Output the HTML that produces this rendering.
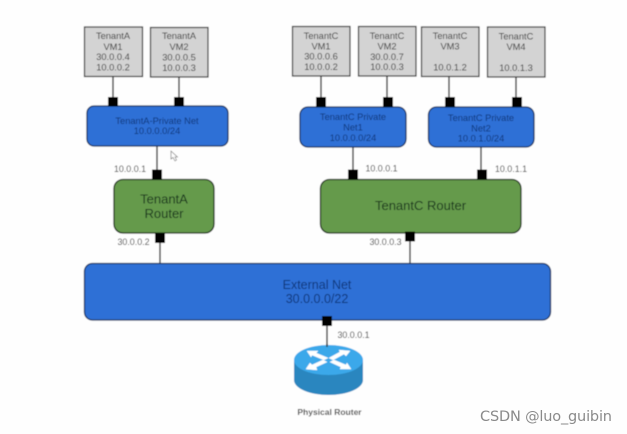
<!DOCTYPE html>
<html>
<head>
<meta charset="utf-8">
<style>
html,body{margin:0;padding:0;background:#fefefe;}
svg{display:block;}
text{font-family:"Liberation Sans",sans-serif;text-anchor:middle;}
.vm{font-size:9.3px;fill:#333;}
.net{font-size:9.3px;fill:#0f3678;}
.ip{font-size:8.9px;fill:#3c3c3c;}
.r{font-size:13px;fill:#12301a;}
</style>
</head>
<body>
<svg width="627" height="434" viewBox="0 0 627 434" xmlns="http://www.w3.org/2000/svg">
<defs><filter id="b" x="0" y="0" width="100%" height="100%"><feGaussianBlur stdDeviation="0.5"/></filter></defs>
<g filter="url(#b)">
<rect width="627" height="434" fill="#fefefe"/>

<!-- lines -->
<g stroke="#333" stroke-width="1.4" fill="none">
<path d="M113 76V100M179 76V100M321 76V100M387 76V100M449 76V100M516 76V100"/>
<path d="M157 146V172M353 146V172M481 146V172M160 240V264M410 238V264M327 322V350"/>
</g>

<!-- VMs -->
<g fill="#d3d3d3" stroke="#2a2a2a" stroke-width="1.2">
<rect x="84.500" y="27" width="58" height="49.500"/>
<rect x="150.500" y="27.500" width="57.500" height="49.500"/>
<rect x="292.500" y="26.500" width="57.500" height="49.500"/>
<rect x="358.500" y="26.500" width="57.500" height="49.500"/>
<rect x="421.500" y="27" width="57.500" height="49.500"/>
<rect x="487.500" y="27" width="57.500" height="50"/>
</g>
<text class="vm" x="113" y="39">TenantA</text><text class="vm" x="113" y="50">VM1</text><text class="vm" x="113" y="60">30.0.0.4</text><text class="vm" x="113" y="70.500">10.0.0.2</text>
<text class="vm" x="179" y="39">TenantA</text><text class="vm" x="179" y="50">VM2</text><text class="vm" x="179" y="60.500">30.0.0.5</text><text class="vm" x="179" y="71">10.0.0.3</text>
<text class="vm" x="321" y="39">TenantC</text><text class="vm" x="321" y="49.500">VM1</text><text class="vm" x="321" y="59.500">30.0.0.6</text><text class="vm" x="321" y="70">10.0.0.2</text>
<text class="vm" x="387" y="39">TenantC</text><text class="vm" x="387" y="49.500">VM2</text><text class="vm" x="387" y="60">30.0.0.7</text><text class="vm" x="387" y="70">10.0.0.3</text>
<text class="vm" x="450" y="39">TenantC</text><text class="vm" x="450" y="49.500">VM3</text><text class="vm" x="450" y="70.500">10.0.1.2</text>
<text class="vm" x="516" y="39.500">TenantC</text><text class="vm" x="516" y="50">VM4</text><text class="vm" x="516" y="71">10.0.1.3</text>

<!-- private nets -->
<g fill="#2f6fd6" stroke="#12305f" stroke-width="1.300">
<rect x="87" y="106" width="141" height="40" rx="7"/>
<rect x="300" y="107" width="106" height="40" rx="8"/>
<rect x="428.500" y="107" width="105.500" height="40" rx="8"/>
</g>
<text class="net" x="157" y="124">TenantA-Private Net</text>
<text class="net" x="157" y="134">10.0.0.0/24</text>
<text class="net" x="353" y="120">TenantC Private</text>
<text class="net" x="353" y="130.500">Net1</text>
<text class="net" x="353" y="141">10.0.0.0/24</text>
<text class="net" x="481" y="121">TenantC Private</text>
<text class="net" x="481" y="131.500">Net2</text>
<text class="net" x="481" y="141.500">10.0.1.0/24</text>

<!-- routers -->
<g fill="#659a4c" stroke="#1d2f1a" stroke-width="1.300">
<rect x="114" y="179.500" width="100" height="53.500" rx="9"/>
<rect x="320.500" y="179.500" width="200.500" height="53.500" rx="9"/>
</g>
<text class="r" x="164" y="203.500">TenantA</text>
<text class="r" x="164" y="218">Router</text>
<text class="r" x="420.500" y="210">TenantC Router</text>

<!-- external -->
<rect x="84.500" y="263.500" width="466" height="56.500" rx="8" fill="#2f6fd6" stroke="#12305f" stroke-width="1.300"/>
<text x="317" y="289" font-size="12.500" fill="#0f3678">External Net</text>
<text x="317" y="303" font-size="12.500" fill="#0f3678">30.0.0.0/22</text>

<!-- ports -->
<g fill="#000">
<rect x="108" y="97" width="10" height="9.500"/>
<rect x="174" y="97" width="10" height="9.500"/>
<rect x="316" y="97" width="10" height="10"/>
<rect x="383" y="97" width="10" height="10"/>
<rect x="445" y="97" width="10" height="10"/>
<rect x="512" y="97" width="10" height="10"/>
<rect x="152" y="169.500" width="10" height="10"/>
<rect x="348" y="169.500" width="10" height="10"/>
<rect x="477" y="169.500" width="10" height="10"/>
<rect x="155" y="233" width="10" height="10"/>
<rect x="405" y="231.500" width="10" height="10"/>
<rect x="322" y="316" width="10" height="10"/>
</g>

<!-- ip labels -->
<text class="ip" x="130" y="172">10.0.0.1</text>
<text class="ip" x="133.500" y="245">30.0.0.2</text>
<text class="ip" x="381.500" y="171.500">10.0.0.1</text>
<text class="ip" x="511" y="172">10.0.1.1</text>
<text class="ip" x="385.500" y="245">30.0.0.3</text>
<text class="ip" x="353.500" y="338">30.0.0.1</text>

<!-- physical router -->
<path d="M294 360V380A34.500 15 0 0 0 363 380V360Z" fill="#2b86bf"/>
<ellipse cx="328.500" cy="360" rx="34.500" ry="15" fill="#3aa8ea"/>
<g fill="#fff" stroke="#fff" stroke-width="0.500">
<path d="M307 351L318 351L316 353L328 358L324 360L312 355L311 357Z"/>
<path d="M350 351L339 350L340 352L329 358L333 360L344 354L346 356Z"/>
<path d="M306 369L317 370L316 367L327 362L323 360L312 365L310 363Z"/>
<path d="M351 369L340 369L341 367L330 362L334 360L346 365L347 363Z"/>
</g>
<line x1="327" y1="344" x2="327" y2="347" stroke="#333" stroke-width="1.400"/>
<text x="329.500" y="415" font-size="8.500" font-weight="bold" fill="#4a4a4a">Physical Router</text>

<!-- cursor -->
<path d="M171 151L171 159L173 157.500L175 161L176.500 160L175 157L177.500 157Z" fill="#fff" stroke="#666" stroke-width="0.600"/>
</g>

<text x="546" y="421" font-size="14.500" fill="#8a8a8a" style="font-family:'DejaVu Sans',sans-serif" textLength="132">CSDN @luo_guibin</text>
</svg>
</body>
</html>
